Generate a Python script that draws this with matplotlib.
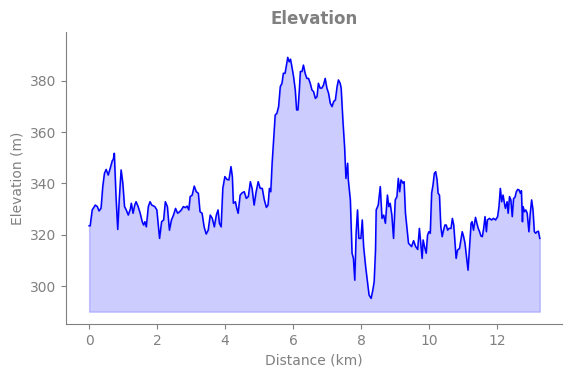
import matplotlib
matplotlib.use("Agg")
import matplotlib.pyplot as plt

# distance along the route (km) and elevation (m)
distance_km = [
    0.00, 0.03, 0.09, 0.18, 0.24, 0.29, 0.35, 0.40, 0.45, 0.50, 0.56, 0.62, 0.68, 0.71, 0.74,
    0.79, 0.84, 0.89, 0.94, 0.99, 1.04, 1.09, 1.15, 1.21, 1.24, 1.29, 1.34, 1.38, 1.44, 1.50,
    1.56, 1.60, 1.64, 1.68, 1.74, 1.79, 1.84, 1.93, 1.99, 2.07, 2.13, 2.19, 2.24, 2.30, 2.36,
    2.42, 2.48, 2.54, 2.60, 2.66, 2.71, 2.77, 2.83, 2.88, 2.93, 2.97, 3.03, 3.09, 3.15, 3.21,
    3.26, 3.32, 3.38, 3.44, 3.50, 3.56, 3.62, 3.68, 3.74, 3.79, 3.83, 3.88, 3.93, 3.99, 4.05,
    4.11, 4.17, 4.21, 4.24, 4.30, 4.34, 4.38, 4.44, 4.50, 4.56, 4.62, 4.68, 4.74, 4.79, 4.85,
    4.91, 4.97, 5.03, 5.09, 5.15, 5.21, 5.26, 5.30, 5.34, 5.38, 5.44, 5.47, 5.52, 5.57, 5.62,
    5.67, 5.71, 5.76, 5.81, 5.84, 5.88, 5.92, 5.96, 6.01, 6.06, 6.10, 6.14, 6.18, 6.21, 6.26,
    6.30, 6.35, 6.40, 6.45, 6.50, 6.55, 6.60, 6.65, 6.70, 6.74, 6.79, 6.84, 6.89, 6.94, 6.99,
    7.04, 7.09, 7.14, 7.19, 7.24, 7.29, 7.33, 7.38, 7.41, 7.46, 7.51, 7.55, 7.60, 7.62, 7.68,
    7.73, 7.77, 7.81, 7.85, 7.89, 7.93, 7.99, 8.03, 8.07, 8.13, 8.19, 8.23, 8.29, 8.34, 8.38,
    8.42, 8.44, 8.50, 8.56, 8.61, 8.66, 8.71, 8.77, 8.81, 8.85, 8.90, 8.95, 9.00, 9.05, 9.09,
    9.13, 9.17, 9.23, 9.26, 9.30, 9.34, 9.39, 9.44, 9.48, 9.54, 9.60, 9.66, 9.71, 9.74, 9.79,
    9.82, 9.86, 9.91, 9.95, 9.99, 10.03, 10.07, 10.11, 10.15, 10.19, 10.23, 10.26, 10.30, 10.34, 10.38,
    10.42, 10.46, 10.50, 10.54, 10.58, 10.64, 10.68, 10.72, 10.76, 10.79, 10.83, 10.89, 10.93, 10.97, 11.01,
    11.05, 11.09, 11.14, 11.19, 11.23, 11.26, 11.30, 11.36, 11.40, 11.44, 11.48, 11.52, 11.56, 11.60, 11.64,
    11.68, 11.71, 11.77, 11.83, 11.89, 11.95, 12.01, 12.05, 12.09, 12.13, 12.17, 12.21, 12.24, 12.29, 12.32,
    12.36, 12.40, 12.44, 12.48, 12.52, 12.56, 12.60, 12.64, 12.68, 12.71, 12.74, 12.76, 12.80, 12.84, 12.88,
    12.93, 12.97, 13.01, 13.05, 13.09, 13.13, 13.17, 13.21, 13.25,
]
elevation_m = [
    323.5, 323.5, 329.7, 331.6, 331.0, 329.3, 330.4, 338.8, 344.0, 345.5, 343.3, 346.0, 348.9, 349.4, 351.8,
    334.9, 322.1, 334.9, 345.3, 340.1, 331.0, 329.7, 327.7, 330.0, 332.3, 328.4, 331.6, 332.9, 331.0, 328.4,
    325.1, 323.8, 325.1, 323.1, 331.0, 332.9, 331.6, 331.0, 329.7, 318.6, 325.1, 325.8, 332.9, 331.0, 321.8,
    325.8, 327.7, 330.3, 328.4, 329.0, 329.7, 331.0, 330.6, 331.2, 329.7, 334.9, 335.5, 339.0, 336.8, 336.2,
    329.0, 328.4, 323.1, 320.3, 321.8, 327.7, 326.4, 323.1, 327.7, 329.7, 324.5, 323.1, 338.1, 342.7, 341.6,
    341.4, 346.6, 342.7, 332.3, 332.9, 330.3, 328.4, 335.5, 336.4, 336.8, 334.2, 334.9, 340.7, 338.1, 331.6,
    336.8, 340.7, 338.1, 338.1, 333.6, 330.7, 331.6, 338.1, 336.8, 347.9, 360.9, 366.7, 367.4, 370.0, 377.8,
    379.1, 383.0, 383.0, 386.9, 389.2, 387.5, 388.5, 385.6, 381.7, 376.5, 368.7, 368.7, 376.5, 383.7, 383.7,
    386.2, 383.0, 381.0, 381.0, 379.1, 376.5, 375.8, 373.2, 373.9, 379.1, 377.2, 377.2, 378.4, 381.0, 377.2,
    375.2, 371.3, 370.0, 372.0, 372.6, 377.8, 380.4, 379.1, 377.2, 364.8, 354.4, 342.0, 347.9, 341.4, 333.6,
    312.8, 310.8, 302.3, 320.6, 329.7, 318.6, 318.6, 325.8, 315.4, 307.5, 301.0, 296.5, 295.2, 298.4, 301.7,
    314.1, 329.7, 331.6, 338.8, 326.4, 327.7, 324.5, 335.5, 331.0, 332.3, 327.7, 318.6, 333.6, 334.9, 342.0,
    336.8, 341.4, 340.1, 340.7, 328.4, 323.1, 316.7, 316.0, 315.4, 317.7, 315.4, 314.3, 322.5, 318.0, 310.8,
    318.0, 315.4, 312.8, 319.9, 321.2, 320.6, 336.2, 339.4, 344.0, 344.6, 341.4, 336.2, 335.5, 323.1, 319.3,
    321.8, 323.8, 323.8, 321.8, 322.5, 322.5, 326.4, 323.8, 316.7, 310.8, 314.0, 314.7, 318.0, 321.2, 319.3,
    316.7, 312.1, 306.2, 316.7, 324.5, 325.1, 321.8, 326.8, 324.5, 322.5, 321.2, 319.5, 319.3, 322.5, 327.1,
    321.2, 325.8, 326.4, 325.8, 326.4, 325.8, 327.1, 331.0, 338.1, 332.9, 335.5, 332.3, 330.3, 332.9, 328.4,
    334.9, 333.6, 327.1, 334.2, 334.6, 336.8, 337.7, 337.5, 336.2, 337.2, 325.1, 331.0, 329.0, 329.7, 328.4,
    321.2, 328.4, 333.6, 329.7, 321.2, 320.6, 321.2, 321.4, 318.6,
]
fill_base = 290

fig = plt.figure(figsize=(5.71, 3.78), dpi=100)
ax = fig.add_axes([0.1156, 0.1429, 0.8684, 0.7725])

ax.fill_between(distance_km, elevation_m, fill_base, color='blue', alpha=0.2)
ax.plot(distance_km, elevation_m, color='blue', linewidth=1.1)

ax.set_xlim(-0.68, 13.9)
ax.set_ylim(285.2, 399.1)
ax.set_xticks([0, 2, 4, 6, 8, 10, 12])
ax.set_yticks([300, 320, 340, 360, 380])

grey = 'grey'
for side in ['top', 'right']:
    ax.spines[side].set_visible(False)
for side in ['left', 'bottom']:
    ax.spines[side].set_color(grey)
ax.tick_params(colors=grey, labelcolor=grey, labelsize=10)

ax.set_title('Elevation', color=grey, fontsize=12, fontweight='bold')
ax.set_xlabel('Distance (km)', color=grey, fontsize=10)
ax.set_ylabel('Elevation (m)', color=grey, fontsize=10)

fig.savefig('out.png', dpi=100)
